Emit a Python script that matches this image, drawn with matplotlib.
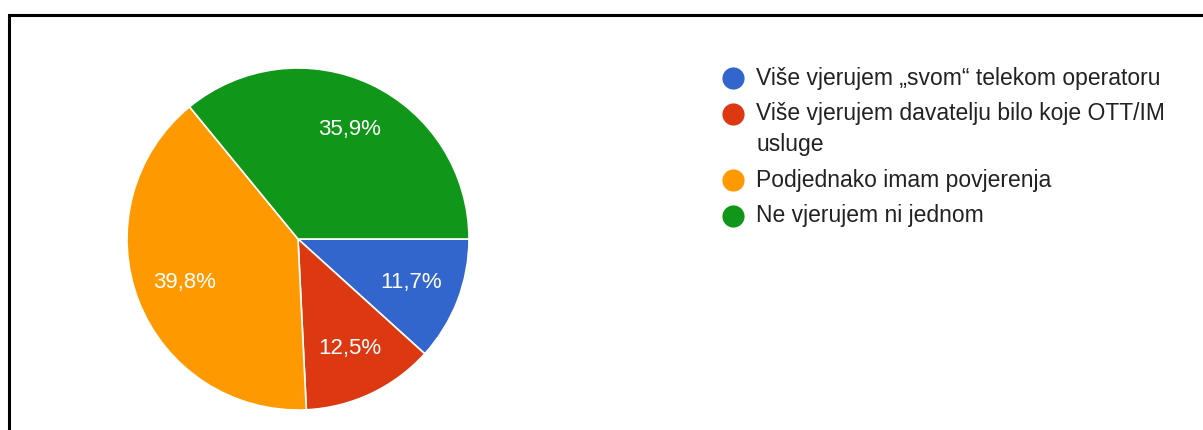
import textwrap
import matplotlib.pyplot as plt

# survey answers and shares (%)
categories = [
    'Više vjerujem „svom“ telekom operatoru',
    'Više vjerujem davatelju bilo koje OTT/IM usluge',
    'Podjednako imam povjerenja',
    'Ne vjerujem ni jednom',
]
shares = [11.7, 12.5, 39.8, 35.9]
colors = ['#3366CC', '#DC3912', '#FF9900', '#109618']

plt.rcParams['font.family'] = ['Liberation Sans', 'DejaVu Sans']

W, H = 1203, 430
fig = plt.figure(figsize=(W / 100, H / 100), dpi=100)
fig.patch.set_facecolor('white')

# pie axes, square, placed in pixel units
cx, cy, r = 298, 239, 171
ax = fig.add_axes([(cx - r) / W, (H - cy - r) / H, 2 * r / W, 2 * r / H])
wedges, texts, autotexts = ax.pie(
    shares, colors=colors, startangle=0, counterclock=False,
    autopct=lambda p: f'{p:.1f}%'.replace('.', ','), pctdistance=0.71,
    wedgeprops=dict(edgecolor='white', linewidth=1.2),
    textprops=dict(color='white', fontsize=16))
ax.set_xlim(-1, 1)
ax.set_ylim(-1, 1)
ax.set_aspect('equal')
ax.axis('off')

# overlay in pixel coordinates for legend and frame
ov = fig.add_axes([0, 0, 1, 1], zorder=5)
ov.set_xlim(0, W)
ov.set_ylim(H, 0)
ov.axis('off')

# frame (top and left edges visible)
ov.plot([9, 9, W + 5], [H + 5, 15, 15], color='black', lw=2.2,
        solid_joinstyle='miter')

# legend
y = 78
for label, c in zip(categories, colors):
    lines = textwrap.wrap(label, width=40)
    ov.scatter([733], [y], s=255, color=c, marker='o', linewidths=0)
    for i, line in enumerate(lines):
        ov.text(756, y + i * 31, line, fontsize=16.5, color='#222222',
                va='center', ha='left')
    y += 35.5 + (len(lines) - 1) * 31

fig.savefig('out.png', dpi=100)
